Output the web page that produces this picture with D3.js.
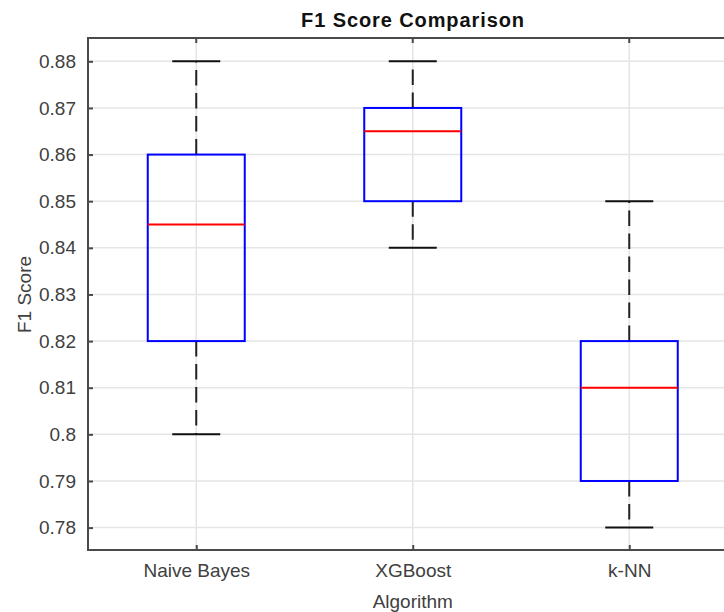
<!DOCTYPE html>
<html>
<head>
<meta charset="utf-8">
<script src="https://cdn.jsdelivr.net/npm/d3@7"></script>
<style>
  html, body { margin: 0; padding: 0; background: #fff; }
  svg { display: block; font-family: "Liberation Sans", Arial, sans-serif; }
</style>
</head>
<body>
<div id="chart"></div>
<script>
// box statistics
const algorithms = ["Naive Bayes", "XGBoost", "k-NN"];
const mins = [0.80, 0.84, 0.78];
const q1s = [0.82, 0.85, 0.79];
const medians = [0.845, 0.865, 0.81];
const q3s = [0.86, 0.87, 0.82];
const maxs = [0.88, 0.88, 0.85];
const yTicks = [0.78, 0.79, 0.80, 0.81, 0.82, 0.83, 0.84, 0.85, 0.86, 0.87, 0.88];

const W = 724, H = 612;
const mLeft = 88, mTop = 38, mBottom = 550;

const data = algorithms.map((name, i) => ({
  name, pos: i + 1, min: mins[i], q1: q1s[i], med: medians[i], q3: q3s[i], max: maxs[i]
}));

const svg = d3.select("#chart").append("svg").attr("width", W).attr("height", H);

const x = d3.scaleLinear().domain([0.5, 3.5]).range([mLeft, mLeft + 3 * 216.5]);
const y = d3.scaleLinear().domain([0.7752, 0.885]).range([mBottom, mTop]);
const mRight = x(3.5);

const boxW = 97, capW = 48;

// grid
const grid = svg.append("g").attr("stroke", "#e5e5e5").attr("stroke-width", 1.5);
grid.selectAll("line.h").data(yTicks).join("line").attr("class", "h")
  .attr("x1", mLeft).attr("x2", mRight)
  .attr("y1", d => y(d)).attr("y2", d => y(d));
grid.selectAll("line.v").data(data).join("line").attr("class", "v")
  .attr("y1", mTop).attr("y2", mBottom)
  .attr("x1", d => x(d.pos)).attr("x2", d => x(d.pos));

// boxes
const g = svg.append("g").selectAll("g").data(data).join("g");

g.append("line")
  .attr("x1", d => x(d.pos)).attr("x2", d => x(d.pos))
  .attr("y1", d => y(d.q3)).attr("y2", d => y(d.max))
  .attr("stroke", "#222").attr("stroke-width", 2).attr("stroke-dasharray", "15.5,7.5");
g.append("line")
  .attr("x1", d => x(d.pos)).attr("x2", d => x(d.pos))
  .attr("y1", d => y(d.q1)).attr("y2", d => y(d.min))
  .attr("stroke", "#222").attr("stroke-width", 2).attr("stroke-dasharray", "15.5,7.5");

g.append("line")
  .attr("x1", d => x(d.pos) - capW / 2).attr("x2", d => x(d.pos) + capW / 2)
  .attr("y1", d => y(d.max)).attr("y2", d => y(d.max))
  .attr("stroke", "#111").attr("stroke-width", 2);
g.append("line")
  .attr("x1", d => x(d.pos) - capW / 2).attr("x2", d => x(d.pos) + capW / 2)
  .attr("y1", d => y(d.min)).attr("y2", d => y(d.min))
  .attr("stroke", "#111").attr("stroke-width", 2);

g.append("rect")
  .attr("x", d => x(d.pos) - boxW / 2).attr("width", boxW)
  .attr("y", d => y(d.q3)).attr("height", d => y(d.q1) - y(d.q3))
  .attr("fill", "none").attr("stroke", "#0000ff").attr("stroke-width", 2);

g.append("line")
  .attr("x1", d => x(d.pos) - boxW / 2).attr("x2", d => x(d.pos) + boxW / 2)
  .attr("y1", d => y(d.med)).attr("y2", d => y(d.med))
  .attr("stroke", "#ff0000").attr("stroke-width", 2);

// axes frame
const axisColor = "#4a4a4a";
const yAxis = svg.append("g").attr("transform", `translate(${mLeft},0)`)
  .call(d3.axisLeft(y).tickValues(yTicks).tickSizeInner(-5).tickSizeOuter(0)
    .tickPadding(12).tickFormat(d => String(+d.toFixed(2))));
yAxis.select(".domain").remove();
yAxis.selectAll(".tick line").attr("stroke", axisColor).attr("stroke-width", 2);
yAxis.selectAll(".tick text").attr("fill", "#404040").style("font-size", "19px");

const xAxis = svg.append("g").attr("transform", `translate(0,${mBottom})`)
  .call(d3.axisBottom(x).tickValues(data.map(d => d.pos)).tickSizeInner(-5).tickSizeOuter(0)
    .tickPadding(14).tickFormat((d, i) => algorithms[i]));
xAxis.select(".domain").remove();
xAxis.selectAll(".tick line").attr("stroke", axisColor).attr("stroke-width", 2);
xAxis.selectAll(".tick text").attr("fill", "#404040").style("font-size", "19px");

// top ticks
svg.append("g").selectAll("line").data(data).join("line")
  .attr("x1", d => x(d.pos)).attr("x2", d => x(d.pos))
  .attr("y1", mTop).attr("y2", mTop + 5)
  .attr("stroke", axisColor).attr("stroke-width", 2);

svg.append("rect")
  .attr("x", mLeft).attr("y", mTop).attr("width", mRight - mLeft).attr("height", mBottom - mTop)
  .attr("fill", "none").attr("stroke", axisColor).attr("stroke-width", 2);

// labels
svg.append("text")
  .attr("x", 413).attr("y", 27)
  .attr("text-anchor", "middle").attr("font-weight", "bold")
  .style("font-size", "20px").style("letter-spacing", "0.9px").attr("fill", "#111")
  .text("F1 Score Comparison");

svg.append("text")
  .attr("x", x(2)).attr("y", 608)
  .attr("text-anchor", "middle").style("font-size", "19px").attr("fill", "#404040")
  .text("Algorithm");

svg.append("text")
  .attr("transform", `translate(31,${y(0.83)}) rotate(-90)`)
  .attr("text-anchor", "middle").style("font-size", "19px").attr("fill", "#404040")
  .text("F1 Score");
</script>
</body>
</html>
